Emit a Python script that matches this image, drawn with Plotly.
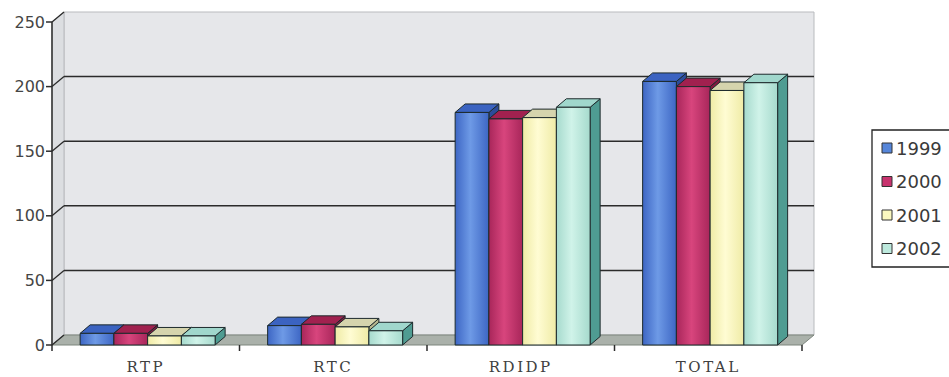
import plotly.graph_objects as go

# ---- data -------------------------------------------------------------
categories = ["RTP", "RTC", "RDIDP", "TOTAL"]
years = ["1999", "2000", "2001", "2002"]
values_1999 = [9, 15, 180, 204]
values_2000 = [9, 16, 175, 200]
values_2001 = [7, 14, 176, 197]
values_2002 = [7, 11, 184, 203]
y_tick_values = [0, 50, 100, 150, 200, 250]
series_values = [values_1999, values_2000, values_2001, values_2002]

# ---- styling ----------------------------------------------------------
FRONT = ["#5686da", "#c8336e", "#fbf8bf", "#bde9dd"]
FRONT_EDGE = ["#3d66c4", "#a8265a", "#efeba6", "#a6dacd"]
FRONT_MID = ["#6e9ae6", "#d8457d", "#fffcd3", "#d0f3e9"]
TOP = ["#3b63c1", "#a1214f", "#d5d4ad", "#a0d7cc"]
SIDE = ["#2c4c9a", "#83193f", "#b7b68e", "#4f9c92"]
EDGE = "#1d2a2c"
WALL_BACK = "#e6e7ea"
WALL_LEFT = "#dcdee1"
FLOOR = "#aab1aa"
GRID = "#2b2b2b"
TEXT = "#3a3a3a"

# ---- geometry (pixels) ------------------------------------------------
FIG_W, FIG_H = 949, 377
FLOOR_LEFT_PX = 52       # front-left corner of the floor
FLOOR_FRONT_PX = 345     # front edge of the floor
CAT_PX = 187.5           # width of one category along the front edge
UNIT_PX = 1.292          # pixels per value unit
PAD_PX = 6               # room for tick marks inside the plotting area
WALL_DX_PX, WALL_DY_PX = 12, 10
BAR_DX_PX, BAR_DY_PX = 10, 8.5
GROUP_W = 0.72
Y_TOP = 250

n = len(categories)
wall_dx = WALL_DX_PX / CAT_PX
wall_dy = WALL_DY_PX / UNIT_PX
bar_dx = BAR_DX_PX / CAT_PX
bar_dy = BAR_DY_PX / UNIT_PX
pad_x = PAD_PX / CAT_PX
pad_y = PAD_PX / UNIT_PX

x_lo, x_hi = -pad_x, n + wall_dx + 2 / CAT_PX
y_lo, y_hi = -pad_y, Y_TOP + wall_dy + 2 / UNIT_PX

m_l = FLOOR_LEFT_PX - PAD_PX
m_b = FIG_H - (FLOOR_FRONT_PX + PAD_PX)
plot_w = (x_hi - x_lo) * CAT_PX
plot_h = (y_hi - y_lo) * UNIT_PX
m_r = FIG_W - m_l - plot_w
m_t = FIG_H - m_b - plot_h


def px_to_paper(px, py):
    return (px - m_l) / plot_w, (FIG_H - m_b - py) / plot_h


fig = go.Figure()

# ---- 3-D bars: side, top and front faces, painted left to right --------
bar_w = GROUP_W / len(series_values)
for j, vals in enumerate(series_values):
    tops_x, tops_y, sides_x, sides_y = [], [], [], []
    fronts = []
    for k, h in enumerate(vals):
        x0 = k + 0.5 - GROUP_W / 2 + 0.01 + j * bar_w
        x1 = x0 + bar_w
        fronts.append(([x0, x1, x1, x0, x0], [0, 0, h, h, 0]))
        tops_x += [x0, x1, x1 + bar_dx, x0 + bar_dx, x0, None]
        tops_y += [h, h, h + bar_dy, h + bar_dy, h, None]
        sides_x += [x1, x1 + bar_dx, x1 + bar_dx, x1, x1, None]
        sides_y += [0, bar_dy, h + bar_dy, h, 0, None]
    for xs, ys, color in ((sides_x, sides_y, SIDE[j]), (tops_x, tops_y, TOP[j])):
        fig.add_trace(go.Scatter(
            x=xs, y=ys, mode="lines", fill="toself", fillcolor=color,
            line=dict(color=EDGE, width=1), hoverinfo="skip",
            showlegend=False, name=years[j],
        ))
    for xs, ys in fronts:
        fig.add_trace(go.Scatter(
            x=xs, y=ys, mode="lines", fill="toself", fillcolor=FRONT[j],
            fillgradient=dict(type="horizontal",
                              colorscale=[[0, FRONT_EDGE[j]], [0.45, FRONT_MID[j]],
                                          [1, FRONT_EDGE[j]]]),
            line=dict(color=EDGE, width=1), hoverinfo="skip",
            showlegend=False, name=years[j],
        ))

# ---- walls, floor and grid ----------------------------------------------
shapes = []
top_back = Y_TOP + wall_dy
shapes.append(dict(type="path", layer="below", xref="x", yref="y",
                   path=f"M{wall_dx},{wall_dy} L{n + wall_dx},{wall_dy} "
                        f"L{n + wall_dx},{top_back} L{wall_dx},{top_back} Z",
                   fillcolor=WALL_BACK, line=dict(color="#b9bbbe", width=1)))
shapes.append(dict(type="path", layer="below", xref="x", yref="y",
                   path=f"M0,0 L{wall_dx},{wall_dy} L{wall_dx},{top_back} L0,{Y_TOP} Z",
                   fillcolor=WALL_LEFT, line=dict(color="#b9bbbe", width=1)))
shapes.append(dict(type="path", layer="below", xref="x", yref="y",
                   path=f"M0,0 L{n},0 L{n + wall_dx},{wall_dy} L{wall_dx},{wall_dy} Z",
                   fillcolor=FLOOR, line=dict(color="#7d857d", width=1)))
for v in y_tick_values:
    if 0 < v < Y_TOP:
        shapes.append(dict(type="line", layer="below", xref="x", yref="y",
                           x0=wall_dx, x1=n + wall_dx, y0=v + wall_dy, y1=v + wall_dy,
                           line=dict(color=GRID, width=1.5)))
    shapes.append(dict(type="line", layer="below", xref="x", yref="y",
                       x0=0, x1=wall_dx, y0=v, y1=v + wall_dy,
                       line=dict(color=GRID, width=1.3)))
    # tick mark on the value axis
    shapes.append(dict(type="line", layer="below", xref="x", yref="y",
                       x0=-pad_x, x1=0, y0=v, y1=v,
                       line=dict(color=GRID, width=1.5)))
# value axis line
shapes.append(dict(type="line", layer="below", xref="x", yref="y",
                   x0=0, x1=0, y0=-pad_y, y1=Y_TOP,
                   line=dict(color=GRID, width=1.5)))
# category boundary ticks
for k in range(1, n + 1):
    shapes.append(dict(type="line", layer="below", xref="x", yref="y",
                       x0=k, x1=k, y0=-pad_y, y1=0,
                       line=dict(color=GRID, width=1.5)))

# ---- legend box ----------------------------------------------------------
LEG_LEFT, LEG_TOP, LEG_RIGHT, LEG_BOTTOM = 872, 130, 958, 267
LEG_ROW0, LEG_STEP = 148, 33.5
bx0, by0 = px_to_paper(LEG_LEFT, LEG_BOTTOM)
bx1, by1 = px_to_paper(LEG_RIGHT, LEG_TOP)
shapes.append(dict(type="rect", xref="paper", yref="paper", x0=bx0, x1=bx1,
                   y0=by0, y1=by1, fillcolor="white",
                   line=dict(color="#222222", width=1.3), layer="above"))
annotations = []
for j, year in enumerate(years):
    cy = LEG_ROW0 + j * LEG_STEP
    sx0, sy0 = px_to_paper(LEG_LEFT + 10, cy + 5)
    sx1, sy1 = px_to_paper(LEG_LEFT + 20, cy - 5)
    shapes.append(dict(type="rect", xref="paper", yref="paper", x0=sx0, x1=sx1,
                       y0=sy0, y1=sy1, fillcolor=FRONT[j],
                       line=dict(color="#333333", width=1), layer="above"))
    tx, ty = px_to_paper(LEG_LEFT + 22, cy)
    annotations.append(dict(xref="paper", yref="paper", x=tx, y=ty, text=year,
                            showarrow=False, xanchor="left", yanchor="middle",
                            font=dict(family="DejaVu Sans", size=18, color=TEXT)))

spaced_labels = [f'<span style="letter-spacing:2.5px">{c}</span>' for c in categories]

fig.update_layout(
    width=FIG_W, height=FIG_H, autosize=False,
    margin=dict(l=m_l, r=m_r, t=m_t, b=m_b, pad=0),
    paper_bgcolor="white", plot_bgcolor="white",
    shapes=shapes, annotations=annotations, showlegend=False,
    xaxis=dict(range=[x_lo, x_hi], showgrid=False, zeroline=False, showline=False,
               automargin=False,
               tickvals=[k + 0.5 for k in range(n)], ticktext=spaced_labels,
               ticks="outside", ticklen=2, tickcolor="rgba(0,0,0,0)",
               tickfont=dict(family="DejaVu Serif", size=15, color="#404040"),
               fixedrange=True),
    yaxis=dict(range=[y_lo, y_hi], showgrid=False, zeroline=False, showline=False,
               automargin=False,
               tickvals=y_tick_values, ticks="",
               tickfont=dict(family="DejaVu Sans", size=16, color="#454545"),
               fixedrange=True),
)

fig.write_html("out.html")
